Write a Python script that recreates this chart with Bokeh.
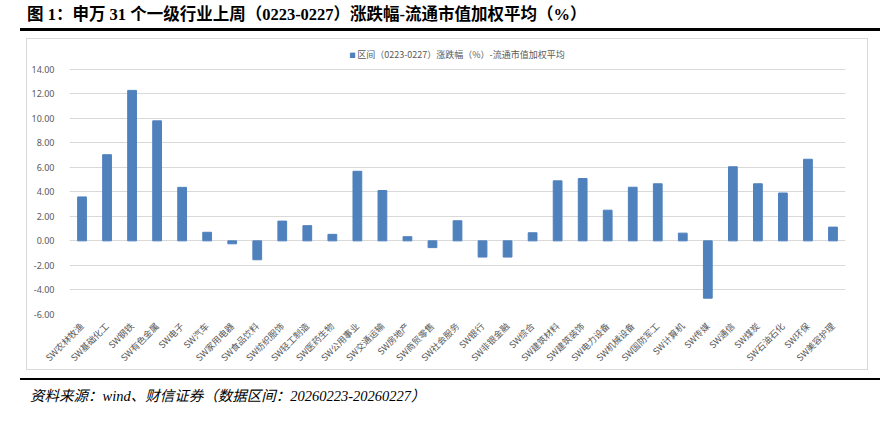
import math
from bokeh.plotting import figure
from bokeh.models import (Div, FactorRange, Range1d, FixedTicker, NumeralTickFormatter,
                          Legend, LegendItem, ColumnDataSource)
from bokeh.layouts import column
from bokeh.embed import file_html
from bokeh.resources import INLINE

industries = ["SW农林牧渔", "SW基础化工", "SW钢铁", "SW有色金属", "SW电子", "SW汽车",
              "SW家用电器", "SW食品饮料", "SW纺织服饰", "SW轻工制造", "SW医药生物",
              "SW公用事业", "SW交通运输", "SW房地产", "SW商贸零售", "SW社会服务",
              "SW银行", "SW非银金融", "SW综合", "SW建筑材料", "SW建筑装饰",
              "SW电力设备", "SW机械设备", "SW国防军工", "SW计算机", "SW传媒",
              "SW通信", "SW煤炭", "SW石油石化", "SW环保", "SW美容护理"]
changes = [3.58, 7.02, 12.26, 9.78, 4.36, 0.70,
           -0.24, -1.54, 1.61, 1.24, 0.53,
           5.67, 4.10, 0.34, -0.55, 1.64,
           -1.32, -1.32, 0.66, 4.89, 5.08,
           2.50, 4.37, 4.65, 0.63, -4.67,
           6.04, 4.65, 3.90, 6.65, 1.12]
y_ticks = [-6, -4, -2, 0, 2, 4, 6, 8, 10, 12, 14]
title_text = "图 1：申万 31 个一级行业上周（0223-0227）涨跌幅-流通市值加权平均（%）"
legend_text = "区间（0223-0227）涨跌幅（%）-流通市值加权平均"
source_text = "资料来源：wind、财信证券（数据区间：20260223-20260227）"

src = ColumnDataSource(dict(ind=industries, chg=changes))

p = figure(x_range=FactorRange(factors=industries, range_padding=0),
           y_range=Range1d(-6, 16), width=842, height=332,
           output_backend="svg", toolbar_location=None,
           min_border_left=42, min_border_right=24,
           min_border_top=5, min_border_bottom=56,
           margin=(6, 0, 0, 26))
r = p.vbar(x="ind", top="chg", width=0.35, source=src,
           fill_color="#4F81BD", line_color="#4F81BD")

legend = Legend(items=[LegendItem(label=legend_text, renderers=[r])],
                orientation="horizontal", location="top_center",
                border_line_color=None, background_fill_alpha=0,
                label_text_font="Noto Sans CJK SC", label_text_font_size="9px",
                label_text_color="#595959", glyph_width=6, glyph_height=6,
                label_standoff=2, padding=4, margin=4, label_height=12)
p.add_layout(legend)

p.outline_line_color = None
p.xgrid.grid_line_color = None
p.ygrid.grid_line_color = "#d9d9d9"
p.ygrid.grid_line_width = 1

p.yaxis.ticker = FixedTicker(ticks=y_ticks)
p.yaxis.formatter = NumeralTickFormatter(format="0.00")
for ax in (p.xaxis, p.yaxis):
    ax.axis_line_color = None
    ax.major_tick_line_color = None
    ax.minor_tick_line_color = None
p.yaxis.major_label_standoff = 9
p.yaxis.major_label_text_font = "Noto Sans"
p.yaxis.major_label_text_font_size = "9px"
p.yaxis.major_label_text_color = "#595959"
p.xaxis.major_label_orientation = math.pi / 4
p.xaxis.major_label_standoff = 4
p.xaxis.major_label_text_font = "Noto Sans CJK SC"
p.xaxis.major_label_text_font_size = "9px"
p.xaxis.major_label_text_color = "#595959"
p.styles = {"border": "1px solid #d9d9d9"}

serif = "'Liberation Serif','Noto Sans CJK SC',serif"
title_div = Div(
    text=(f'<div style="padding-left:20px;">'
          f'<div style="width:860px;height:31px;box-sizing:border-box;padding-top:8px;'
          f'border-bottom:3px solid #000;font-family:{serif};font-weight:bold;'
          f'font-size:16.5px;line-height:14px;padding-left:7px;color:#000;'
          f'white-space:nowrap;">{title_text}</div></div>'),
    width=880, height=32, margin=(0, 0, 0, 0))
footer_div = Div(
    text=(f'<div style="padding-left:20px;padding-top:8px;">'
          f'<div style="width:860px;box-sizing:border-box;border-top:2px solid #000;'
          f'padding-top:7px;padding-left:10px;font-family:{serif};font-style:italic;'
          f'font-size:14.5px;line-height:18px;color:#000;white-space:nowrap;">'
          f'{source_text}</div></div>'),
    width=880, height=44, margin=(0, 0, 0, 0))

layout = column(title_div, p, footer_div, spacing=0)
open("out.html", "w").write(file_html(layout, INLINE))
